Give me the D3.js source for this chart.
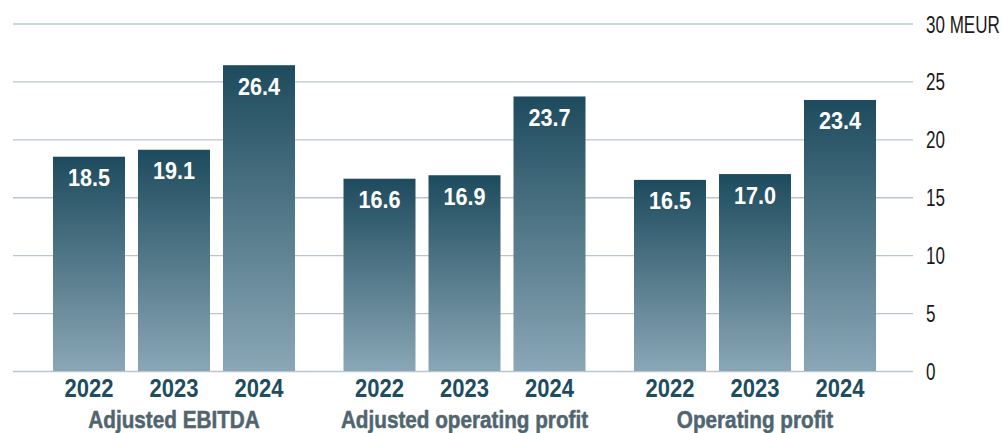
<!DOCTYPE html>
<html><head><meta charset="utf-8">
<script src="https://cdn.jsdelivr.net/npm/d3@7"></script>
<style>
body{margin:0;background:#fff;}
text{font-family:"Liberation Sans",Arial,sans-serif;}
</style></head>
<body><svg id="c" width="1002" height="433"></svg>
<script>
const categories = ["Adjusted EBITDA", "Adjusted operating profit", "Operating profit"];
const years = ["2022", "2023", "2024"];
const values2022 = [18.5, 16.6, 16.5];
const values2023 = [19.1, 16.9, 17.0];
const values2024 = [26.4, 23.7, 23.4];
const yTicks = [0, 5, 10, 15, 20, 25, 30];
const unitLabel = "MEUR";

const series = [values2022, values2023, values2024];
const data = [];
categories.forEach((c, ci) => years.forEach((yr, yi) => data.push({cat: c, year: yr, value: series[yi][ci]})));

const svg = d3.select("#c");
const y = d3.scaleLinear().domain([0, 30]).range([371, 23.5]);
const x0 = d3.scaleBand().domain(categories).range([28.75, 900.25]).paddingInner(0.167).paddingOuter(0.0835);
const x1 = d3.scaleBand().domain(years).range([0, x0.bandwidth()]).paddingInner(0.153).paddingOuter(0);

const defs = svg.append("defs");
const g = defs.append("linearGradient").attr("id", "bg")
  .attr("x1", 0).attr("x2", 0).attr("y1", 0).attr("y2", 1);
g.append("stop").attr("offset", "0%").attr("stop-color", "#1d4b5d");
g.append("stop").attr("offset", "100%").attr("stop-color", "#8aa7b6");

// gridlines + right axis
const axis = d3.axisRight(y).tickValues(yTicks).tickSize(-900).tickPadding(0)
  .tickFormat(d => d === 30 ? d + " " + unitLabel : d);
const ag = svg.append("g").attr("transform", "translate(913,0)").call(axis);
ag.select(".domain").remove();
ag.selectAll(".tick line").attr("stroke", "#b9c6cd").attr("stroke-width", 1.3);
ag.selectAll(".tick text")
  .attr("x", null).attr("dy", null)
  .attr("transform", "translate(13,8.5) scale(0.71,1)")
  .attr("font-size", 24).attr("fill", "#1a1a1a")
  .style("font-family", '"Liberation Sans",Arial,sans-serif');

const bars = svg.append("g");
bars.selectAll("rect").data(data).join("rect")
  .attr("x", d => x0(d.cat) + x1(d.year))
  .attr("y", d => y(d.value))
  .attr("width", x1.bandwidth())
  .attr("height", d => y(0) - y(d.value))
  .attr("fill", "url(#bg)");

bars.selectAll("text.val").data(data).join("text").attr("class", "val")
  .attr("transform", d => `translate(${x0(d.cat) + x1(d.year) + x1.bandwidth() / 2},${y(d.value) + 29.5}) scale(0.9,1)`)
  .attr("text-anchor", "middle").attr("fill", "#fff").attr("font-weight", "bold").attr("font-size", 24)
  .text(d => d.value.toFixed(1));

bars.selectAll("text.yr").data(data).join("text").attr("class", "yr")
  .attr("transform", d => `translate(${x0(d.cat) + x1(d.year) + x1.bandwidth() / 2},396.5) scale(0.88,1)`)
  .attr("text-anchor", "middle").attr("fill", "#1e4d5f").attr("font-weight", "bold").attr("font-size", 25)
  .text(d => d.year);

svg.selectAll("text.cat").data(categories).join("text").attr("class", "cat")
  .attr("transform", d => `translate(${x0(d) + x0.bandwidth() / 2},428) scale(0.9,1)`)
  .attr("text-anchor", "middle").attr("fill", "#51656f").attr("stroke", "#51656f").attr("stroke-width", 0.5)
  .attr("font-weight", "bold").attr("font-size", 23)
  .text(d => d);
</script></body></html>
